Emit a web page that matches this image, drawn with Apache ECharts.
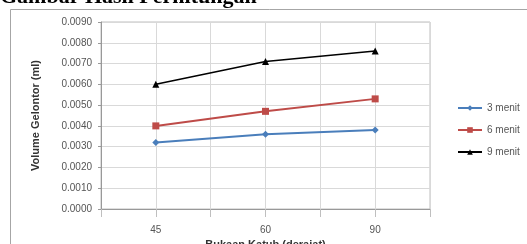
<!DOCTYPE html>
<html><head><meta charset="utf-8">
<script src="https://cdn.jsdelivr.net/npm/echarts@6/dist/echarts.min.js"></script>
<style>html,body{margin:0;padding:0;background:#fff}#c{width:527px;height:244px}</style>
</head><body><div id="c"></div>
<script>
const categories = ['45', '60', '90'];
const yTicks = [0, 0.001, 0.002, 0.003, 0.004, 0.005, 0.006, 0.007, 0.008, 0.009];
const s3 = [0.0032, 0.0036, 0.0038];
const s6 = [0.0040, 0.0047, 0.0053];
const s9 = [0.0060, 0.0071, 0.0076];
const seriesNames = ['3 menit', '6 menit', '9 menit'];
const chart = echarts.init(document.getElementById('c'), null, {renderer: 'canvas'});
const fnt = 'Liberation Sans';
chart.setOption({
  animation: false,
  backgroundColor: '#fff',
  graphic: [
    {type: 'rect', shape: {x: 10.5, y: 9.5, width: 530, height: 240}, style: {fill: 'none', stroke: '#a6a6a6', lineWidth: 1}, z: -1},
    {type: 'text', x: 0, y: 8, style: {text: 'Gambar Hasil Perhitungan', font: 'bold 22px "Liberation Serif"', fill: '#000', verticalAlign: 'bottom'}}
  ],
  grid: {left: 101, right: 97, top: 22, bottom: 35, show: true, borderColor: '#bfbfbf', borderWidth: 1,
         containLabel: false, outerBoundsMode: 'none'},
  legend: {
    orient: 'vertical', left: 452, top: 98, itemGap: 12, itemWidth: 24, itemHeight: 7,
    textStyle: {fontFamily: fnt, fontSize: 10, color: '#555'},
    data: seriesNames
  },
  xAxis: [
    {type: 'category', data: categories, boundaryGap: true,
     name: 'Bukaan Katub (derajat)', nameLocation: 'middle', nameGap: 26,
     nameTextStyle: {fontFamily: fnt, fontSize: 11, fontWeight: 'bold', color: '#333'},
     axisLine: {lineStyle: {color: '#999'}}, axisTick: {show: false},
     axisLabel: {fontFamily: fnt, fontSize: 10, color: '#555', margin: 16},
     splitLine: {show: false}},
    {type: 'category', data: ['', '', '', '', '', ''], boundaryGap: true, position: 'bottom',
     axisLine: {show: false}, axisTick: {show: true, length: 8, lineStyle: {color: '#bfbfbf'}}, axisLabel: {show: false},
     splitLine: {show: true, lineStyle: {color: '#d9d9d9'}}}
  ],
  yAxis: {
    type: 'value', min: 0, max: 0.009, interval: 0.001,
    name: 'Volume Gelontor (ml)', nameLocation: 'middle', nameGap: 60,
    nameTextStyle: {fontFamily: fnt, fontSize: 11, fontWeight: 'bold', color: '#333'},
    axisLine: {show: true, lineStyle: {color: '#999'}},
    axisTick: {show: true, length: 3, lineStyle: {color: '#999'}},
    axisLabel: {fontFamily: fnt, fontSize: 10, color: '#555', margin: 9,
      formatter: v => { const t = yTicks.find(x => Math.abs(x - v) < 1e-9); return (t !== undefined ? t : v).toFixed(4); }},
    splitLine: {lineStyle: {color: '#d9d9d9'}}
  },
  series: [
    {name: seriesNames[0], type: 'line', data: s3, symbol: 'diamond', symbolSize: 7,
     itemStyle: {color: '#4a7ebb'}, lineStyle: {width: 2, color: '#4a7ebb'}},
    {name: seriesNames[1], type: 'line', data: s6, symbol: 'rect', symbolSize: 7,
     itemStyle: {color: '#be4b48'}, lineStyle: {width: 2, color: '#be4b48'}},
    {name: seriesNames[2], type: 'line', data: s9, symbol: 'triangle', symbolSize: 7,
     itemStyle: {color: '#000'}, lineStyle: {width: 1.5, color: '#000'}}
  ]
});
</script></body></html>
